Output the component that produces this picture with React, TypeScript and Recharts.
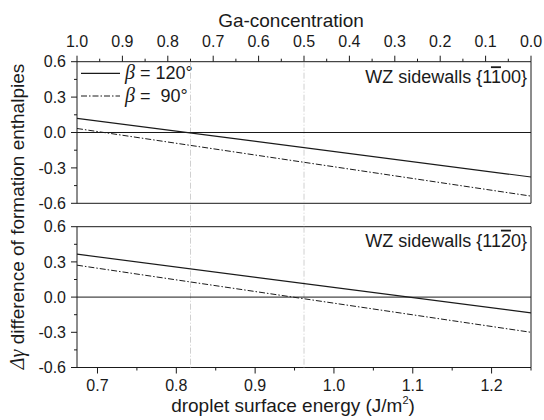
import { LineChart, Line, XAxis, YAxis, ReferenceLine, ReferenceArea } from 'recharts'

// droplet surface energy (J/m^2) at the two ends of each line
const energy = [0.674, 1.25]
// WZ sidewalls {1-100}
const topBeta120 = [0.12, -0.377]
const topBeta90 = [0.034, -0.539]
// WZ sidewalls {11-20}
const bottomBeta120 = [0.366, -0.134]
const bottomBeta90 = [0.272, -0.3]

// Ga-concentration runs 1.0 -> 0.0 across the same width; the zero line spans it
const gaEnds = [1.0, 0.0]
const zeroLevel = [0, 0]

const energyDomain = [0.674, 1.25]
const energyTicks = [0.7, 0.75, 0.8, 0.85, 0.9, 0.95, 1.0, 1.05, 1.1, 1.15, 1.2, 1.25]
const energyLabels = [0.7, 0.8, 0.9, 1.0, 1.1, 1.2]
const gaTicks = [1.0, 0.95, 0.9, 0.85, 0.8, 0.75, 0.7, 0.65, 0.6, 0.55, 0.5, 0.45, 0.4, 0.35, 0.3, 0.25, 0.2, 0.15, 0.1, 0.05, 0.0]
const gaLabels = [1.0, 0.9, 0.8, 0.7, 0.6, 0.5, 0.4, 0.3, 0.2, 0.1, 0.0]
const yTicks = [-0.6, -0.45, -0.3, -0.15, 0, 0.15, 0.3, 0.45, 0.6]
const yLabels = [-0.6, -0.3, 0, 0.3, 0.6]
// energies where Ga-concentration = 0.75 and 0.5
const markers = [0.818, 0.962]

const INK = '#1a1a1a'
const SANS = '"Liberation Sans", Arial, sans-serif'
const SERIF = '"Liberation Serif", "Times New Roman", serif'

const toRows = (ys: number[]) => energy.map((x, i) => ({ x, y: ys[i] }))
const zeroRows = gaEnds.map((ga, i) => ({ ga, y: zeroLevel[i] }))

const isIn = (v: number, list: number[]) => list.some((l) => Math.abs(l - v) < 1e-6)

function LeftTick(props: any) {
  const { x, y, payload } = props
  const major = isIn(payload.value, yLabels)
  return (
    <g>
      <line x1={x - (major ? 6 : 3)} x2={x} y1={y} y2={y} stroke={INK} />
      {major && (
        <text x={x - 11} y={y} dy="0.36em" textAnchor="end" fontSize={16} fontFamily={SANS} fill={INK}>
          {payload.value.toFixed(1)}
        </text>
      )}
    </g>
  )
}

function TopTick(props: any) {
  const { x, y, payload } = props
  const major = isIn(payload.value, gaLabels)
  return (
    <g>
      <line x1={x} x2={x} y1={y - (major ? 6 : 3)} y2={y} stroke={INK} />
      {major && (
        <text x={x} y={y - 15} textAnchor="middle" fontSize={16} fontFamily={SANS} fill={INK}>
          {payload.value.toFixed(1)}
        </text>
      )}
    </g>
  )
}

function BottomTick(props: any) {
  const { x, y, payload } = props
  const major = isIn(payload.value, energyLabels)
  return (
    <g>
      <line x1={x} x2={x} y1={y} y2={y + (major ? 6 : 3)} stroke={INK} />
      {major && (
        <text x={x} y={y + 23.2} textAnchor="middle" fontSize={16} fontFamily={SANS} fill={INK}>
          {payload.value.toFixed(1)}
        </text>
      )}
    </g>
  )
}

const dashDot = '6 2 1.5 2'

function Panel({
  rows120,
  rows90,
  margin,
  top,
  children,
}: {
  rows120: { x: number; y: number }[]
  rows90: { x: number; y: number }[]
  margin: { top: number; right: number; bottom: number; left: number }
  top: boolean
  children?: any
}) {
  return (
    <LineChart width={544} height={420} margin={margin}>
      <XAxis
        xAxisId="ga"
        dataKey="ga"
        orientation="top"
        type="number"
        domain={[0, 1]}
        reversed
        allowDataOverflow
        ticks={gaTicks}
        interval={0}
        hide={!top}
        height={39.7}
        axisLine={false}
        tickLine={false}
        tickSize={0}
        tickMargin={0}
        tick={<TopTick />}
      />
      <XAxis
        xAxisId="e"
        dataKey="x"
        type="number"
        domain={energyDomain}
        allowDataOverflow
        ticks={energyTicks}
        interval={0}
        hide={top}
        height={52.5}
        axisLine={false}
        tickLine={false}
        tickSize={0}
        tickMargin={0}
        tick={<BottomTick />}
      />
      <YAxis
        type="number"
        domain={[-0.6, 0.6]}
        allowDataOverflow
        ticks={yTicks}
        interval={0}
        width={45}
        axisLine={false}
        tickLine={false}
        tickSize={0}
        tickMargin={0}
        tick={<LeftTick />}
      />
      <ReferenceArea
        xAxisId="e"
        x1={energyDomain[0]}
        x2={energyDomain[1]}
        y1={-0.6}
        y2={0.6}
        fill="none"
        fillOpacity={0}
        stroke={INK}
        strokeWidth={1}
        ifOverflow="visible"
      />
      {markers.map((m) => (
        <ReferenceLine
          key={m}
          xAxisId="e"
          segment={top ? [{ x: m, y: 0.6 }, { x: m, y: -0.8 }] : [{ x: m, y: 0.6 }, { x: m, y: -0.6 }]}
          ifOverflow="visible"
          stroke="#c4c4c4"
          strokeWidth={0.8}
          strokeDasharray="6 2 1 2"
        />
      ))}
      <Line
        xAxisId="ga"
        data={zeroRows}
        dataKey="y"
        type="linear"
        stroke={INK}
        strokeWidth={1}
        dot={false}
        legendType="none"
        isAnimationActive={false}
      />
      <Line
        xAxisId="e"
        data={rows120}
        dataKey="y"
        name="β = 120°"
        type="linear"
        stroke={INK}
        strokeWidth={1.2}
        dot={false}
        isAnimationActive={false}
      />
      <Line
        xAxisId="e"
        data={rows90}
        dataKey="y"
        name="β = 90°"
        type="linear"
        stroke={INK}
        strokeWidth={1}
        strokeDasharray={dashDot}
        dot={false}
        isAnimationActive={false}
      />
      {children}
    </LineChart>
  )
}

export default function App() {
  return (
    <div style={{ position: 'fixed', left: 0, top: 0, width: 544, height: 420, background: '#fff' }}>
      <div style={{ position: 'absolute', left: 0, top: 0 }}>
        <Panel
          rows120={toRows(topBeta120)}
          rows90={toRows(topBeta90)}
          margin={{ top: 22, right: 13, bottom: 216.7, left: 32 }}
          top
        >
          <text x={291} y={26.7} textAnchor="middle" fontSize={19} fontFamily={SANS} fill={INK}>
            Ga-concentration
          </text>
          <g fontFamily={SANS} fontSize={18} fill={INK}>
            <line x1={81} x2={120} y1={73.3} y2={73.3} stroke={INK} strokeWidth={1.2} />
            <text x={125} y={79.3}>
              <tspan fontFamily={SERIF} fontStyle="italic" fontSize={20}>β</tspan>{' = 120°'}
            </text>
            <line x1={81} x2={120} y1={96} y2={96} stroke={INK} strokeWidth={1} strokeDasharray={dashDot} />
            <text x={125} y={101.7}>
              <tspan fontFamily={SERIF} fontStyle="italic" fontSize={20}>β</tspan>{' =\u00a0 90°'}
            </text>
          </g>
          <text x={527} y={83.3} textAnchor="end" fontSize={18} fontFamily={SANS} fill={INK}>
            WZ sidewalls {'{'}1<tspan style={{ textDecoration: 'overline' }}>1</tspan>00{'}'}
          </text>
        </Panel>
      </div>
      <div style={{ position: 'absolute', left: 0, top: 0 }}>
        <Panel
          rows120={toRows(bottomBeta120)}
          rows90={toRows(bottomBeta90)}
          margin={{ top: 226.7, right: 13, bottom: 0, left: 32 }}
          top={false}
        >
          <text x={527} y={246.7} textAnchor="end" fontSize={18} fontFamily={SANS} fill={INK}>
            WZ sidewalls {'{'}11<tspan style={{ textDecoration: 'overline' }}>2</tspan>0{'}'}
          </text>
          <text x={293} y={411.7} textAnchor="middle" fontSize={19} fontFamily={SANS} fill={INK}>
            droplet surface energy (J/m<tspan dy={-8} fontSize={11}>2</tspan>
            <tspan dy={8}>)</tspan>
          </text>
          <text
            x={0}
            y={0}
            transform="translate(24, 216.5) rotate(-90)"
            textAnchor="middle"
            fontSize={19}
            fontFamily={SANS}
            fill={INK}
          >
            <tspan fontFamily={SERIF} fontStyle="italic" fontSize={20}>Δγ</tspan> difference of formation enthalpies
          </text>
        </Panel>
      </div>
    </div>
  )
}
